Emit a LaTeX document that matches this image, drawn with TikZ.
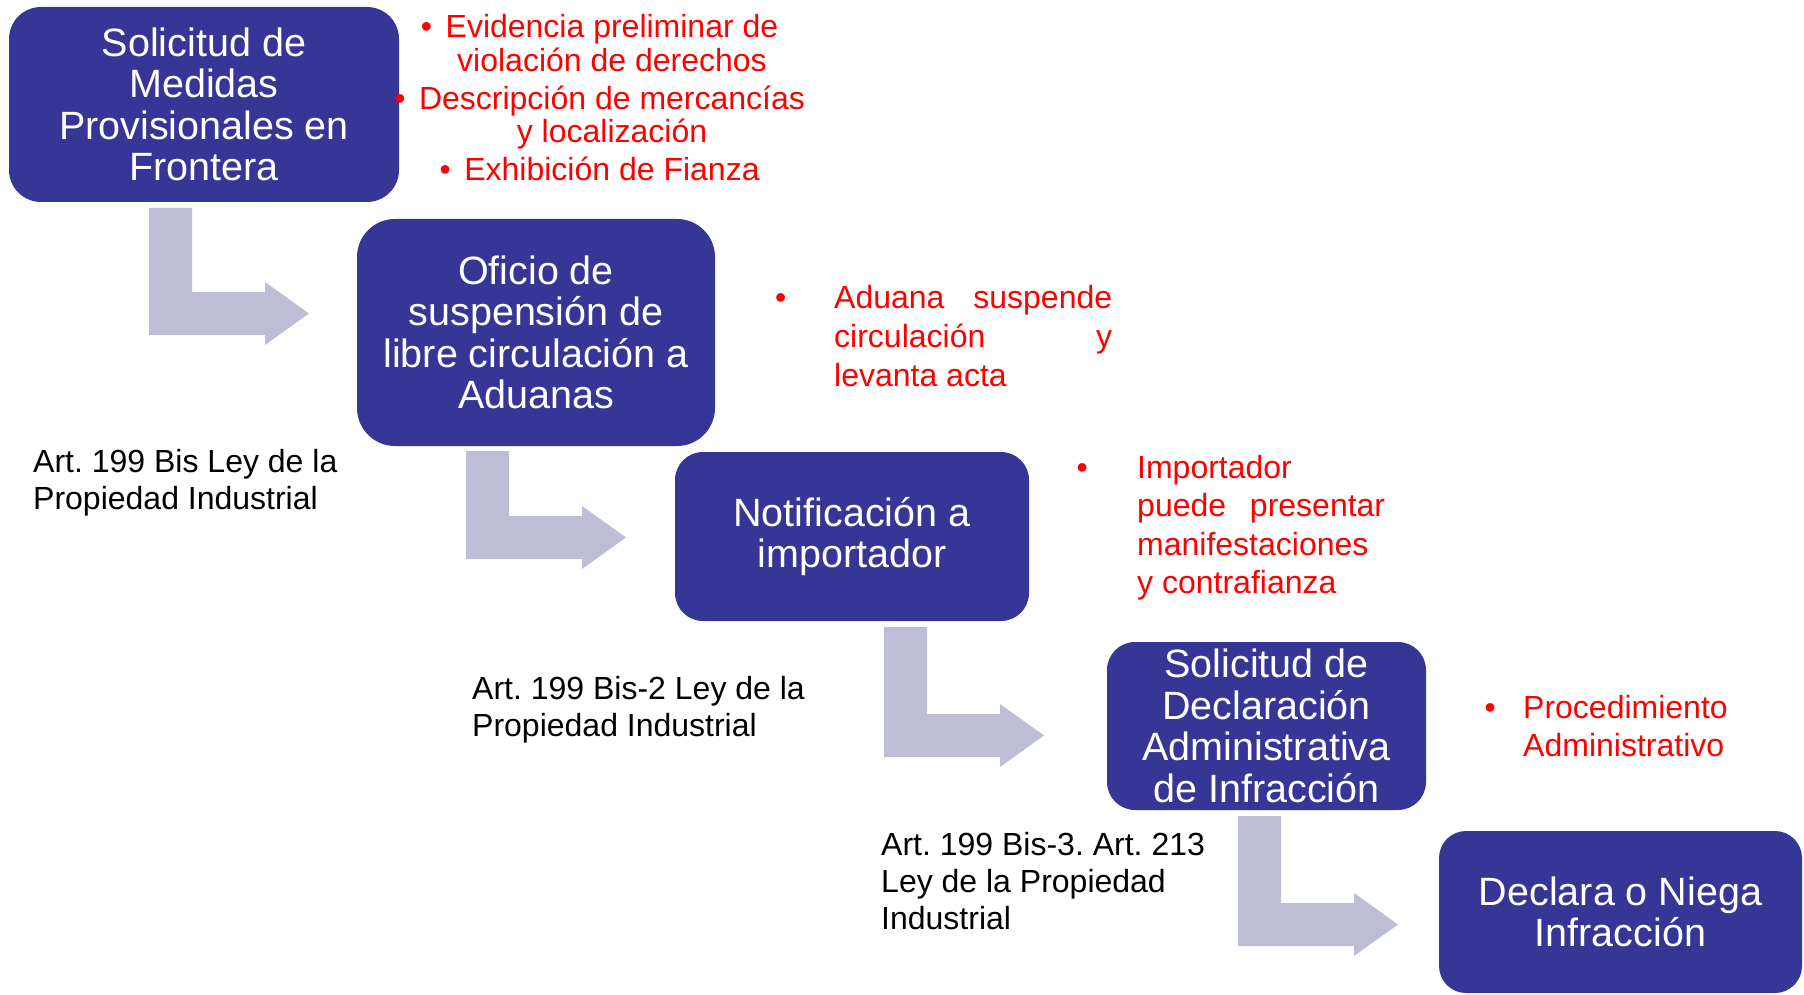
\documentclass[tikz,border=0pt]{standalone}
\usepackage{fontspec}
\setmainfont{Liberation Sans}
\usepackage{tikz}
\usetikzlibrary{calc}
\definecolor{boxblue}{RGB}{54,54,150}
\definecolor{arrowgray}{RGB}{189,190,214}
\definecolor{notered}{RGB}{255,0,0}
\newcommand{\bendarrow}[3]{ \fill[arrowgray] ( #1 , #2 ) -- ( {#1+43} , #2 ) -- ( {#1+43} , {#3-43} ) -- ( {#1+116} , {#3-43} ) -- ( {#1+116} , {#3-53} ) -- ( {#1+160} , {#3-21.5} ) -- ( {#1+116} , {#3+10} ) -- ( {#1+116} , #3 ) -- ( #1 , #3 ) -- cycle;}
\newcommand{\bul}[1]{\llap{•\hspace{#1}}}
\newcommand{\spread}[2]{\makebox[#1][s]{#2}}
\frenchspacing
\tikzset{
  stepbox/.style={fill=boxblue, text=white, align=center, inner sep=0pt, font=\fontsize{39.5}{41.5}\selectfont},
  rednote/.style={text=notered, inner sep=0pt, font=\fontsize{32}{33.5}\selectfont},
  artnote/.style={text=black, align=left, anchor=west, inner sep=0pt, font=\fontsize{32}{37}\selectfont}
}

\begin{document}
\begin{tikzpicture}[x=1pt,y=-1pt]
        \useasboundingbox (0,0) rectangle (1804,995);
        % arrows
        \bendarrow{149}{208}{335}
        \bendarrow{466}{451}{559}
        \bendarrow{884}{627}{757}
        \bendarrow{1238}{816}{946}
        % steps
        \node[stepbox, minimum width=390pt, minimum height=195pt, rounded corners=32pt] (solicitud) at (204,104.5) {Solicitud de\\Medidas\\Provisionales en\\Frontera};
        \node[stepbox, minimum width=358pt, minimum height=227pt, rounded corners=38pt] (oficio) at (536,332.5) {Oficio de\\suspensión de\\libre circulación a\\Aduanas};
        \node[stepbox, minimum width=354pt, minimum height=169pt, rounded corners=28pt] (notificacion) at (852,536.5) {Notificación a\\importador};
        \node[stepbox, minimum width=319pt, minimum height=168pt, rounded corners=28pt] (declaracion) at (1266.5,726) {Solicitud de\\Declaración\\Administrativa\\de Infracción};
        \node[stepbox, minimum width=363pt, minimum height=162pt, rounded corners=27pt] (resolucion) at (1620.5,912) {Declara o Niega\\Infracción};
        % red notes
        \node[rednote, align=center] (requisitos) at (612,98) {\bul{13.5pt}Evidencia preliminar de\\violación de derechos\\[4.5pt]\bul{13.5pt}Descripción de mercancías\\y localización\\[4.5pt]\bul{13.5pt}Exhibición de Fianza};
        \node[rednote, align=left, anchor=west, font=\fontsize{32}{39}\selectfont] (aduana) at (834,336) {\bul{48pt}\spread{278pt}{Aduana suspende}\\\spread{278pt}{circulación y}\\levanta acta};
        \node[rednote, align=left, anchor=west, font=\fontsize{32}{38.5}\selectfont] (importador) at (1137,527.5) {\bul{49.5pt}Importador\\\spread{248pt}{puede presentar}\\manifestaciones\\y contrafianza};
        \node[rednote, align=left, anchor=west, font=\fontsize{32}{38}\selectfont] (procedimiento) at (1523,726) {\bul{27.5pt}Procedimiento\\Administrativo};
        % articles
        \node[artnote] (art1) at (33,483) {Art. 199 Bis Ley de la\\Propiedad Industrial};
        \node[artnote] (art2) at (472,710) {Art. 199 Bis-2 Ley de la\\Propiedad Industrial};
        \node[artnote] (art3) at (881,881.5) {Art. 199 Bis-3. Art. 213\\Ley de la Propiedad\\Industrial};
\end{tikzpicture}
\end{document}
